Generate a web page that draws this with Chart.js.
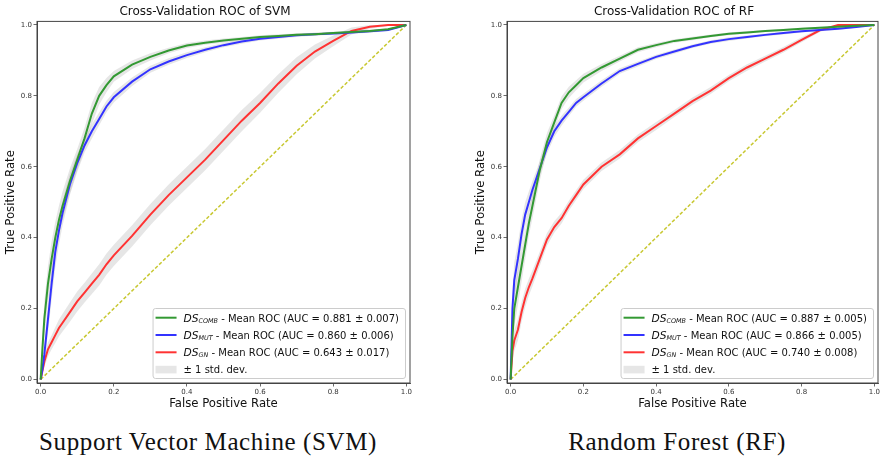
<!DOCTYPE html>
<html>
<head>
<meta charset="utf-8">
<title>Cross-Validation ROC</title>
<script src="https://cdn.jsdelivr.net/npm/chart.js@4.4.1/dist/chart.umd.min.js"></script>
<style>
  html, body { margin: 0; padding: 0; background: #fff; overflow: hidden; }
  #wrap { position: relative; width: 883px; height: 459px; }
  canvas { position: absolute; top: 0; }
  #svmChart { left: 0; }
  #rfChart { left: 470px; }
  .caption {
    position: absolute;
    top: 429px;
    font-family: "Liberation Serif", serif;
    font-size: 25px;
    line-height: 25px;
    letter-spacing: 0.6px;
    color: #111;
    white-space: nowrap;
    transform: translateX(-50%);
  }
</style>
</head>
<body>
<div id="wrap">
  <canvas id="svmChart" width="447" height="415"></canvas>
  <canvas id="rfChart" width="445" height="415"></canvas>
  <div class="caption" style="left:208px">Support Vector Machine (SVM)</div>
  <div class="caption" style="left:677px">Random Forest (RF)</div>
</div>

<script>
/* =========================
   DATA
========================= */

const tickValues = [0, 0.2, 0.4, 0.6, 0.8, 1.0];
const chanceLine = [0, 1];

const fprGrid = [0, 0.005, 0.01, 0.02, 0.03, 0.04, 0.05, 0.06, 0.08, 0.10,
  0.12, 0.14, 0.16, 0.18, 0.20, 0.25, 0.30, 0.35, 0.40, 0.45,
  0.50, 0.55, 0.60, 0.65, 0.70, 0.75, 0.80, 0.85, 0.90, 0.95, 1.00];

const seriesNames = ["COMB", "MUT", "GN"];

// SVM
const svmComb = [0, .09, .17, .27, .34, .40, .45, .49, .56, .62,
  .68, .75, .80, .83, .855, .888, .91, .928, .942, .95,
  .956, .961, .966, .969, .972, .974, .977, .98, .983, .988, 1];
const svmMut = [0, .03, .07, .17, .27, .36, .42, .47, .55, .61,
  .66, .70, .735, .77, .796, .84, .875, .897, .915, .93,
  .943, .953, .961, .966, .971, .974, .976, .979, .982, .986, 1];
const svmGn = [0, .025, .05, .085, .105, .125, .145, .16, .19, .22,
  .245, .27, .295, .325, .35, .405, .465, .52, .57, .62,
  .675, .73, .78, .835, .885, .925, .955, .983, .995, 1, 1];

const svmCombStd = [0, .04, .05, .05, .05, .045, .04, .04, .035, .03,
  .03, .03, .025, .02, .015, .012, .01, .008, .007, .006,
  .006, .005, .005, .005, .004, .004, .004, .004, .004, .003, 0];
const svmMutStd = [0, .02, .03, .04, .045, .045, .04, .035, .03, .025,
  .02, .02, .018, .016, .015, .012, .01, .009, .008, .007,
  .006, .006, .005, .005, .005, .004, .004, .004, .004, .003, 0];
const svmGnStd = [0, .01, .015, .02, .02, .022, .024, .025, .027, .028,
  .028, .029, .03, .03, .03, .03, .03, .03, .03, .03,
  .03, .03, .028, .026, .024, .02, .015, .01, .006, .003, 0];

const svmAucMean = [0.881, 0.860, 0.643];
const svmAucStd = [0.007, 0.006, 0.017];

// RF
const rfComb = [0, .12, .20, .26, .32, .38, .44, .49, .59, .67,
  .725, .78, .81, .83, .85, .88, .905, .93, .943, .955,
  .962, .969, .975, .979, .983, .986, .989, .992, .995, .998, 1];
const rfMut = [0, .20, .28, .34, .41, .465, .50, .535, .595, .655,
  .70, .73, .755, .78, .796, .835, .87, .89, .91, .925,
  .94, .952, .96, .966, .972, .977, .982, .986, .989, .994, 1];
const rfGn = [0, .08, .11, .14, .19, .23, .26, .285, .34, .395,
  .43, .455, .49, .52, .55, .60, .635, .68, .715, .75,
  .785, .815, .85, .88, .905, .93, .958, .985, 1, 1, 1];

const rfCombStd = [0, .04, .05, .05, .045, .04, .035, .035, .03, .025,
  .02, .018, .016, .014, .012, .01, .008, .007, .006, .005,
  .005, .004, .004, .004, .003, .003, .003, .003, .002, .002, 0];
const rfMutStd = [0, .05, .05, .045, .04, .035, .03, .025, .02, .018,
  .016, .014, .012, .011, .01, .009, .008, .007, .006, .006,
  .005, .005, .005, .004, .004, .004, .003, .003, .003, .002, 0];
const rfGnStd = [0, .03, .03, .03, .028, .026, .024, .022, .02, .018,
  .016, .015, .014, .014, .013, .012, .012, .011, .011, .01,
  .01, .01, .009, .009, .008, .008, .007, .005, .003, .002, 0];

const rfAucMean = [0.887, 0.866, 0.740];
const rfAucStd = [0.005, 0.005, 0.008];

/* =========================
   STYLE
========================= */

const FONT = "'DejaVu Sans', sans-serif";
const lineColors = ["#339933", "#3333ff", "#ff3333"];
const bandColor = "rgba(128,128,128,0.2)";
const chanceColor = "#c8c832";
const axisColor = "#444";

/* =========================
   PLUGINS
========================= */

const frame = {
  id: "frame",
  afterDatasetsDraw(chart) {
    const { ctx, chartArea: a } = chart;
    ctx.save();
    ctx.strokeStyle = axisColor;
    ctx.lineWidth = 1;
    ctx.strokeRect(a.left, a.top, a.right - a.left, a.bottom - a.top);
    ctx.restore();
  }
};

const rocLegend = {
  id: "rocLegend",
  afterDraw(chart, args, opts) {
    const { ctx, chartArea: a } = chart;
    const rows = opts.rows || [];
    const mainFont = "10px " + FONT;
    const dsFont = "italic 10.7px " + FONT;
    const subFont = "italic 6.4px " + FONT;

    ctx.save();
    const widths = rows.map(r => {
      ctx.font = dsFont;
      let w = ctx.measureText("DS").width;
      ctx.font = subFont;
      w += ctx.measureText(r.sub).width;
      ctx.font = mainFont;
      return w + ctx.measureText(r.text).width;
    });
    ctx.font = mainFont;
    widths.push(ctx.measureText(opts.stdText).width);

    const boxW = 31 + Math.max(...widths) + 6;
    const boxH = 70;
    const right = a.right - 5;
    const bottom = a.bottom - 5;
    const left = right - boxW;
    const top = bottom - boxH;

    ctx.beginPath();
    ctx.roundRect(left + 0.5, top + 0.5, boxW, boxH, 2.5);
    ctx.fillStyle = "rgba(255,255,255,0.8)";
    ctx.fill();
    ctx.strokeStyle = "#cccccc";
    ctx.lineWidth = 1;
    ctx.stroke();

    ctx.textBaseline = "alphabetic";
    ctx.fillStyle = "#111";
    rows.forEach((r, i) => {
      const cy = top + 9.7 + i * 17.3;
      const base = cy + 3.8;
      ctx.strokeStyle = r.color;
      ctx.lineWidth = 2;
      ctx.beginPath();
      ctx.moveTo(left + 3, cy);
      ctx.lineTo(left + 24, cy);
      ctx.stroke();

      let x = left + 31;
      ctx.font = dsFont;
      ctx.fillText("DS", x, base);
      x += ctx.measureText("DS").width;
      ctx.font = subFont;
      ctx.fillText(r.sub, x, base + 1.2);
      x += ctx.measureText(r.sub).width;
      ctx.font = mainFont;
      ctx.fillText(r.text, x, base);
    });

    const cy = top + 9.7 + rows.length * 17.3;
    ctx.fillStyle = bandColor;
    ctx.fillRect(left + 3, cy - 3.8, 21, 7.6);
    ctx.fillStyle = "#111";
    ctx.font = mainFont;
    ctx.fillText(opts.stdText, left + 31, cy + 3.8);
    ctx.restore();
  }
};

/* =========================
   CHART
========================= */

function toPoints(ys) {
  return fprGrid.map((x, i) => ({ x: x, y: ys[i] }));
}

function axisOptions(label, isY) {
  return {
    type: "linear",
    min: -0.01,
    max: 1.01,
    afterBuildTicks: s => { s.ticks = tickValues.map(v => ({ value: v })); },
    afterFit: s => { if (isY) s.width = 37; else s.height = 32; },
    ticks: {
      font: { family: FONT, size: 7 },
      color: "#333",
      padding: 1.5,
      maxRotation: 0,
      autoSkip: false,
      callback: v => v.toFixed(1)
    },
    grid: { drawOnChartArea: false, drawTicks: true, tickLength: 3.5, color: axisColor, lineWidth: 0.8 },
    border: { display: true, color: axisColor, width: 1 },
    title: {
      display: true,
      text: label,
      font: { family: FONT, size: 11.7 },
      color: "#111",
      padding: { top: 4, bottom: 4 }
    }
  };
}

function renderRoc(canvasId, title, curves, stds, aucMean, aucStd) {
  const datasets = [];

  curves.forEach((c, i) => {
    datasets.push({
      data: toPoints(c),
      borderColor: lineColors[i],
      borderWidth: 2,
      pointRadius: 0,
      fill: false
    });
  });

  datasets.push({
    data: chanceLine.map(v => ({ x: v, y: v })),
    borderColor: chanceColor,
    borderWidth: 1.5,
    borderDash: [3.5, 2],
    pointRadius: 0,
    fill: false
  });

  curves.forEach((c, i) => {
    const lower = c.map((v, k) => Math.max(0, v - stds[i][k]));
    const upper = c.map((v, k) => Math.min(1, v + stds[i][k]));
    datasets.push({
      data: toPoints(lower),
      borderColor: "transparent",
      borderWidth: 0,
      pointRadius: 0,
      fill: false
    });
    datasets.push({
      data: toPoints(upper),
      borderColor: "transparent",
      borderWidth: 0,
      pointRadius: 0,
      backgroundColor: bandColor,
      fill: "-1"
    });
  });

  const rows = seriesNames.map((name, i) => ({
    color: lineColors[i],
    sub: name,
    text: " - Mean ROC (AUC = " + aucMean[i].toFixed(3) + " \u00b1 " + aucStd[i].toFixed(3) + ")"
  }));

  return new Chart(document.getElementById(canvasId), {
    type: "line",
    data: { datasets },
    plugins: [frame, rocLegend],
    options: {
      responsive: false,
      animation: false,
      layout: { padding: { left: 0, right: 37, top: 0, bottom: 0 } },
      elements: { line: { tension: 0 } },
      scales: {
        x: axisOptions("False Positive Rate", false),
        y: axisOptions("True Positive Rate", true)
      },
      plugins: {
        legend: { display: false },
        tooltip: { enabled: false },
        title: {
          display: true,
          text: title,
          font: { family: FONT, size: 12, weight: "normal" },
          color: "#111",
          padding: { top: 5, bottom: 2 }
        },
        rocLegend: { rows, stdText: "\u00b1 1 std. dev." }
      }
    }
  });
}

renderRoc("svmChart", "Cross-Validation ROC of SVM",
  [svmComb, svmMut, svmGn], [svmCombStd, svmMutStd, svmGnStd], svmAucMean, svmAucStd);

renderRoc("rfChart", "Cross-Validation ROC of RF",
  [rfComb, rfMut, rfGn], [rfCombStd, rfMutStd, rfGnStd], rfAucMean, rfAucStd);
</script>
</body>
</html>
